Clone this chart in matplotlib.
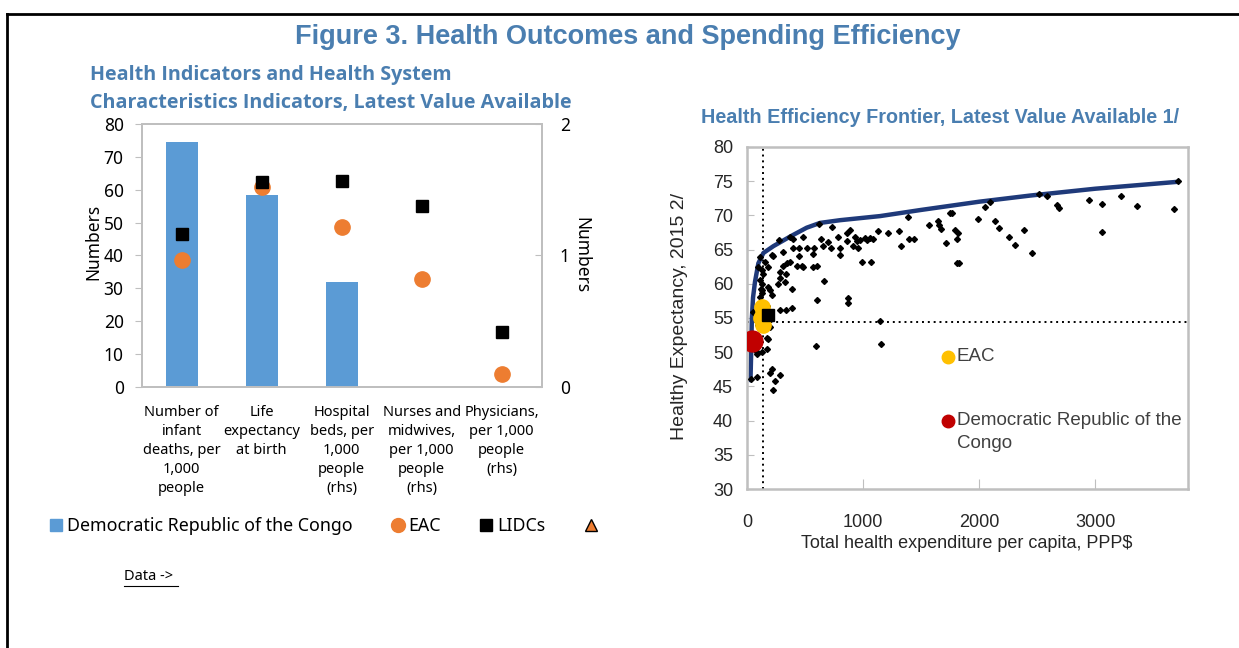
import numpy as np
import matplotlib

matplotlib.use("Agg")
import matplotlib.pyplot as plt
from matplotlib.lines import Line2D

W, H = 1239, 648
BLUE_TITLE = "#4a7eb0"
BAR_BLUE = "#5b9bd5"
ORANGE = "#ed7d31"
FRAME = "#bfbfbf"
NAVY = "#1f3a7a"
GOLD = "#ffc000"
RED = "#c00000"

# ---- left panel: indicators (rhs categories are on the 0-2 axis)
CATEGORIES = [
    "Number of\ninfant\ndeaths, per\n1,000\npeople",
    "Life\nexpectancy\nat birth",
    "Hospital\nbeds, per\n1,000\npeople\n(rhs)",
    "Nurses and\nmidwives,\nper 1,000\npeople\n(rhs)",
    "Physicians,\nper 1,000\npeople\n(rhs)",
]
ON_RHS = [False, False, True, True, True]
DRC_VALS = [74.5, 58.4, 0.80, np.nan, np.nan]
EAC_VALS = [38.7, 61.0, 1.22, 0.82, 0.095]
LIDC_VALS = [46.5, 62.3, 1.57, 1.38, 0.415]

# ---- right panel: efficiency frontier
SPEND = [624, 730, 371, 399, 485, 279, 213, 313, 399, 451, 451, 514, 578, 572,
         638, 658, 702, 722, 787, 802, 859, 859, 888, 917, 931, 945, 960, 974,
         1017, 1032, 1060, 1089, 1132, 1218, 988, 1069, 802, 307, 341, 371, 428,
         476, 485, 572, 600, 285, 336, 270, 328, 385, 664, 600, 874, 874, 285,
         336, 385, 184, 184, 213, 141, 126, 126, 98, 112, 118, 107, 170,
         1147, 1155, 595, 175, 127, 89, 89, 32, 218, 198, 285, 241, 227, 198, 69,
         1313, 1325, 1391, 1399, 1439, 1572, 1650, 1658, 1670, 1712, 1750, 1770,
         1793, 1822, 1808, 1813, 1830, 1988, 2052, 2095, 2138, 2172, 2258, 2310,
         2387, 2454, 2520, 2589, 2675, 2690, 2948, 3058, 3058, 3221, 3359, 3678,
         3710, 155, 227, 128, 112, 284, 128, 198, 112, 112, 55, 98, 184, 170, 83]
HALE = [68.8, 68.3, 66.9, 66.6, 66.9, 66.4, 64.2, 64.7, 65.2, 65.2, 64.1, 65.3,
        65.3, 64.4, 66.6, 65.5, 66.1, 65.2, 66.8, 65.2, 66.2, 67.4, 67.9, 65.5,
        66.9, 66.2, 65.3, 66.4, 66.7, 66.4, 66.7, 66.6, 67.7, 67.4, 63.2, 63.2,
        64.2, 62.6, 63.0, 63.2, 62.6, 62.6, 62.4, 62.4, 62.6, 61.7, 61.5, 60.0,
        60.2, 59.2, 60.4, 57.7, 57.9, 57.2, 56.2, 56.2, 56.5, 62.4, 59.5, 58.3,
        61.5, 60.0, 58.6, 62.4, 63.9, 59.2, 57.1, 56.8,
        54.5, 51.2, 50.9, 52.1, 50.1, 49.7, 46.4, 46.1, 47.6, 46.9, 46.6, 45.8,
        44.5, 53.7, 51.3,
        67.7, 65.5, 69.7, 66.5, 66.6, 68.6, 69.2, 68.6, 68.0, 66.0, 70.4, 70.4,
        67.9, 67.4, 66.5, 63.1, 63.1, 69.5, 71.2, 71.9, 69.2, 68.1, 66.8, 65.7,
        67.9, 64.5, 73.1, 72.8, 71.5, 71.1, 72.3, 71.7, 67.6, 72.8, 71.4, 70.9,
        75.0, 63.2, 64.0, 62.0, 60.5, 60.8, 59.1, 59.1, 58.1, 57.2, 55.9, 54.0,
        52.0, 50.4, 50.1]
FRONTIER_X = [30, 36, 42, 52, 69, 98, 141, 227, 371, 514, 629, 802, 1147,
              1500, 2000, 2440, 3000, 3704]
FRONTIER_Y = [45.9, 50.0, 55.0, 58.0, 60.3, 63.0, 64.5, 65.5, 66.9, 68.2, 68.9,
              69.3, 69.9, 70.8, 72.0, 72.9, 73.9, 74.9]
EAC_SPEND = [130, 140, 120, 135]
EAC_HALE = [56.6, 55.6, 55.0, 54.0]
LIDC_SPEND = [184]
LIDC_HALE = [55.5]
DRC_SPEND = [40]
DRC_HALE = [51.6]
MEDIAN_SPEND = 135
MEDIAN_HALE = 54.4

TITLE_FONT = ["Open Sans", "Noto Sans", "DejaVu Sans"]
LEFT_FONT = ["Noto Sans", "DejaVu Sans"]
RIGHT_FONT = ["Liberation Sans Narrow", "Liberation Sans", "DejaVu Sans"]


def px_box(x0, y0, x1, y1):
    return [x0 / W, 1 - y1 / H, (x1 - x0) / W, (y1 - y0) / H]


fig = plt.figure(figsize=(W / 100, H / 100), dpi=100)

# frame lines around the figure
fig.add_artist(Line2D([7 / W, 1], [1 - 14 / H] * 2, color="black", lw=2))
fig.add_artist(Line2D([7 / W] * 2, [0, 1 - 14 / H], color="black", lw=2))

fig.text(628 / W, 1 - 37 / H, "Figure 3. Health Outcomes and Spending Efficiency",
         ha="center", va="center", fontsize=19.5, fontweight="bold",
         color=BLUE_TITLE, family=RIGHT_FONT)

# ================= left panel =================
ax = fig.add_axes(px_box(141.7, 124.3, 541.7, 386.7))
ax2 = ax.twinx()
x = np.arange(len(CATEGORIES))
lhs = np.array([not r for r in ON_RHS])
rhs = np.array(ON_RHS)

for a, mask in ((ax, lhs), (ax2, rhs)):
    a.bar(x[mask], np.array(DRC_VALS)[mask], width=0.4, color=BAR_BLUE, zorder=2)
    a.plot(x[mask], np.array(EAC_VALS)[mask], "o", ms=11, color=ORANGE,
           ls="none", zorder=3)
    a.plot(x[mask], np.array(LIDC_VALS)[mask], "s", ms=9, color="black",
           ls="none", zorder=4)

ax.set_xlim(-0.5, 4.5)
ax.set_ylim(0, 80)
ax.set_yticks(range(0, 81, 10))
ax2.set_ylim(0, 2)
ax2.set_yticks([0, 1, 2])
ax.set_xticks(x)
ax.set_xticklabels(CATEGORIES, family=LEFT_FONT, fontsize=10.5)
for t in ax.get_xticklabels():
    t.set_linespacing(1.38)
ax.tick_params(axis="x", length=0, pad=13)
ax.tick_params(axis="y", length=5, color=FRAME, pad=8, labelsize=12.5)
ax2.tick_params(axis="y", length=5, color=FRAME, direction="in", pad=13,
                labelsize=12.5)
for a in (ax, ax2):
    for t in a.get_yticklabels():
        t.set_family(LEFT_FONT)
    for s in a.spines.values():
        s.set_color(FRAME)
        s.set_linewidth(1.3)

ax.text(-0.12, 0.55, "Numbers", transform=ax.transAxes, rotation=90,
        ha="center", va="center", fontsize=12.5, family=LEFT_FONT)
ax.text(1.098, 0.50, "Numbers", transform=ax.transAxes, rotation=-90,
        ha="center", va="center", fontsize=12.5, family=LEFT_FONT)

fig.text(90 / W, 1 - 75 / H, "Health Indicators and Health System",
         ha="left", va="center", fontsize=14.2, fontweight="bold",
         color=BLUE_TITLE, family=TITLE_FONT)
fig.text(90 / W, 1 - 103 / H, "Characteristics Indicators, Latest Value Available",
         ha="left", va="center", fontsize=14.2, fontweight="bold",
         color=BLUE_TITLE, family=TITLE_FONT)

handles = [
    Line2D([], [], marker="s", ls="none", color=BAR_BLUE, ms=9),
    Line2D([], [], marker="o", ls="none", color=ORANGE, ms=10),
    Line2D([], [], marker="s", ls="none", color="black", ms=8),
    Line2D([], [], marker="^", ls="none", color=ORANGE, mec="black", ms=8),
]
labels = ["Democratic Republic of the Congo", "EAC", "LIDCs", ""]
fig.legend(handles, labels, loc="center left",
           bbox_to_anchor=(51 / W, 1 - 526 / H), ncol=4, frameon=False,
           handlelength=0.6, handletextpad=0.3, columnspacing=2.25,
           prop={"family": LEFT_FONT, "size": 12.8},
           borderaxespad=0, borderpad=0)

fig.text(124 / W, 1 - 577 / H, "Data ->", ha="left", va="center",
         fontsize=10.5, family=LEFT_FONT)
fig.add_artist(Line2D([124 / W, 178 / W], [1 - 586 / H] * 2, color="black",
                      lw=0.8))

# ================= right panel =================
bx = fig.add_axes(px_box(747, 147, 1188, 489))
bx.plot(FRONTIER_X, FRONTIER_Y, color=NAVY, lw=3.2, zorder=2,
        solid_capstyle="round", solid_joinstyle="round")
bx.plot(SPEND, HALE, "D", ms=3.0, color="black", ls="none", zorder=3)
bx.axvline(MEDIAN_SPEND, color="black", ls=(0, (1, 2)), lw=1.4, zorder=1)
bx.axhline(MEDIAN_HALE, color="black", ls=(0, (1, 2)), lw=1.4, zorder=1)
bx.plot(EAC_SPEND, EAC_HALE, "o", ms=11, color=GOLD, ls="none", zorder=4)
bx.plot(LIDC_SPEND, LIDC_HALE, "s", ms=9, color="black", ls="none", zorder=5)
bx.plot(DRC_SPEND, DRC_HALE, "o", ms=15, color=RED, ls="none", zorder=5)

bx.set_xlim(0, 3800)
bx.set_ylim(30, 80)
bx.set_yticks(range(30, 81, 5))
bx.set_xticks([0, 1000, 2000, 3000])
bx.tick_params(axis="y", direction="in", length=5, color=FRAME, pad=10,
               labelsize=13, labelcolor="#262626")
bx.tick_params(axis="x", direction="in", length=7, color=FRAME, pad=18,
               labelsize=13, labelcolor="#262626")
for t in bx.get_xticklabels() + bx.get_yticklabels():
    t.set_family(RIGHT_FONT)
for s in bx.spines.values():
    s.set_color(FRAME)
    s.set_linewidth(1.8)

bx.text(0.438, 1.085, "Health Efficiency Frontier, Latest Value Available 1/",
        transform=bx.transAxes, ha="center", va="center", fontsize=14.2,
        fontweight="bold", color=BLUE_TITLE, family=RIGHT_FONT)
bx.text(-0.152, 0.503, "Healthy Expectancy, 2015 2/", transform=bx.transAxes,
        rotation=90, ha="center", va="center", fontsize=14, color="#262626",
        family=RIGHT_FONT)
bx.text(0.499, -0.158, "Total health expenditure per capita, PPP$",
        transform=bx.transAxes, ha="center", va="center", fontsize=13,
        color="#262626", family=RIGHT_FONT)

# in-plot legend
bx.plot([0.456], [0.386], "o", ms=9, color=GOLD, transform=bx.transAxes,
        clip_on=False)
bx.text(0.476, 0.386, "EAC", transform=bx.transAxes, ha="left", va="center",
        fontsize=13.5, color="#404040", family=RIGHT_FONT)
bx.plot([0.456], [0.199], "o", ms=9, color=RED, transform=bx.transAxes,
        clip_on=False)
bx.text(0.476, 0.226, "Democratic Republic of the\nCongo", transform=bx.transAxes,
        ha="left", va="top", fontsize=13.5, color="#404040", family=RIGHT_FONT,
        linespacing=1.45)

fig.savefig("out.png", dpi=100)
